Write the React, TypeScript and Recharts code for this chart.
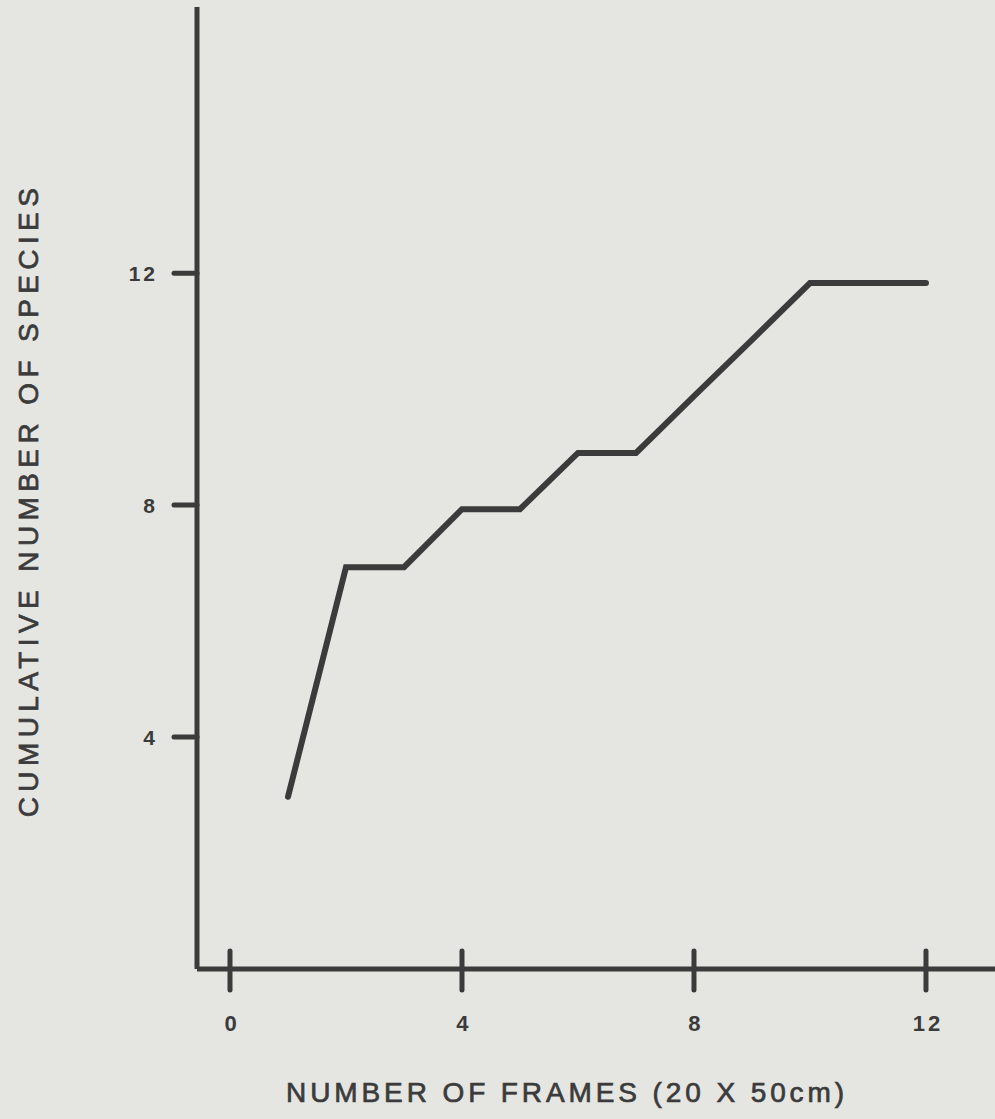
import React from 'react';
import { LineChart, Line, XAxis, YAxis, Label } from 'recharts';

const frames = [1, 2, 3, 4, 5, 6, 7, 8, 9, 10, 11, 12];
const species = [2.97, 6.93, 6.93, 7.93, 7.93, 8.9, 8.9, 9.88, 10.85, 11.83, 11.83, 11.83];
const xTicks = [0, 4, 8, 12];
const yTicks = [4, 8, 12];

const xTitle = 'NUMBER OF FRAMES (20 X 50cm)';
const yTitle = 'CUMULATIVE NUMBER OF SPECIES';

const data = frames.map((f, i) => ({ frame: f, species: species[i] }));

const ink = '#3b3b3b';
const font = '"Liberation Sans", Arial, sans-serif';

const XTick = (props: any) => {
  const { x, y, payload } = props;
  return (
    <g>
      <line x1={x} x2={x} y1={y - 18} y2={y + 21} stroke={ink} strokeWidth={5} strokeLinecap="round" />
      <text x={x + 2} y={y + 62} textAnchor="middle" fontFamily={font} fontWeight="bold" fontSize={22} letterSpacing={3} fill={ink}>
        {payload.value}
      </text>
    </g>
  );
};

const YTick = (props: any) => {
  const { x, y, payload } = props;
  return (
    <g>
      <line x1={x - 23} x2={x} y1={y} y2={y} stroke={ink} strokeWidth={5} strokeLinecap="round" />
      <text x={x - 39} y={y + 8} textAnchor="end" fontFamily={font} fontWeight="bold" fontSize={21} letterSpacing={3} fill={ink}>
        {payload.value}
      </text>
    </g>
  );
};

const XTitle = (props: any) => {
  const vb = props.viewBox;
  return (
    <text x={vb.x + 370} y={vb.y + 133} textAnchor="middle" fontFamily={font} fontSize={28} letterSpacing={3.9} fill={ink} stroke={ink} strokeWidth={0.7}>
      {xTitle}
    </text>
  );
};

const YTitle = (props: any) => {
  const vb = props.viewBox;
  const cx = vb.x + 38;
  const cy = vb.y + vb.height / 2 + 12;
  return (
    <text x={cx} y={cy} transform={`rotate(-90 ${cx} ${cy})`} textAnchor="middle" fontFamily={font} fontSize={28} letterSpacing={5.4} fill={ink} stroke={ink} strokeWidth={0.7}>
      {yTitle}
    </text>
  );
};

export default function App() {
  return (
    <div style={{ position: 'absolute', left: 0, top: 0, width: 995, height: 1119, background: '#e5e5e2' }}>
      <LineChart width={995} height={1119} data={data} margin={{ top: 7, right: 0, bottom: 0, left: 0 }}>
        <XAxis
          dataKey="frame"
          type="number"
          domain={[-0.569, 13.19]}
          allowDataOverflow
          ticks={xTicks}
          interval={0}
          height={150}
          tickSize={0}
          tickMargin={0}
          tickLine={false}
          axisLine={{ stroke: ink, strokeWidth: 5 }}
          tick={<XTick />}
        >
          <Label content={<XTitle />} />
        </XAxis>
        <YAxis
          type="number"
          domain={[0, 16.59]}
          allowDataOverflow
          ticks={yTicks}
          interval={0}
          width={197}
          tickSize={0}
          tickMargin={0}
          tickLine={false}
          axisLine={{ stroke: ink, strokeWidth: 5 }}
          tick={<YTick />}
        >
          <Label content={<YTitle />} />
        </YAxis>
        <Line
          type="linear"
          dataKey="species"
          stroke={ink}
          strokeWidth={6}
          strokeLinecap="round"
          dot={false}
          isAnimationActive={false}
        />
      </LineChart>
    </div>
  );
}
